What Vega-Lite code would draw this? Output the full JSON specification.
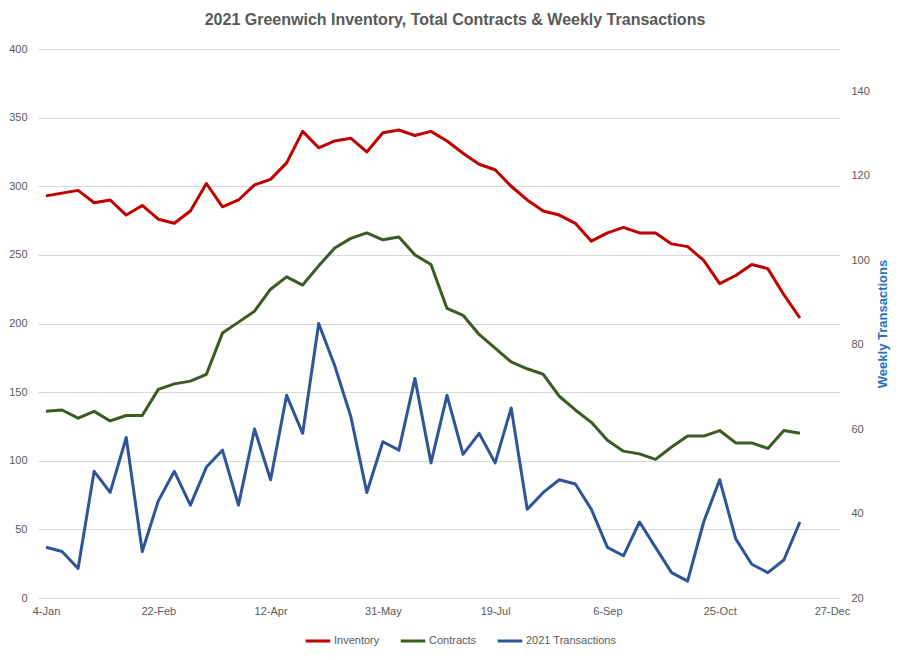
{
  "$schema": "https://vega.github.io/schema/vega-lite/v6.json",
  "autosize": {"type": "none"},
  "width": 802,
  "height": 549,
  "padding": {"left": 38, "top": 49, "right": 70, "bottom": 62},
  "background": "white",
  "config": {
    "view": {"stroke": null},
    "font": "Liberation Sans",
    "axis": {"labelFont": "Liberation Sans", "labelFontSize": 11, "labelColor": "#595959", "domain": false, "ticks": false}
  },
  "title": {
    "text": "2021 Greenwich Inventory, Total Contracts & Weekly Transactions",
    "font": "Liberation Sans",
    "fontSize": 16,
    "fontWeight": "bold",
    "color": "#595959",
    "anchor": "middle",
    "dx": 16,
    "offset": 15
  },
  "data": {
    "values": [
      {"week": 0, "Inventory": 293, "Contracts": 136, "Transactions": 32},
      {"week": 1, "Inventory": 295, "Contracts": 137, "Transactions": 31},
      {"week": 2, "Inventory": 297, "Contracts": 131, "Transactions": 27},
      {"week": 3, "Inventory": 288, "Contracts": 136, "Transactions": 50},
      {"week": 4, "Inventory": 290, "Contracts": 129, "Transactions": 45},
      {"week": 5, "Inventory": 279, "Contracts": 133, "Transactions": 58},
      {"week": 6, "Inventory": 286, "Contracts": 133, "Transactions": 31},
      {"week": 7, "Inventory": 276, "Contracts": 152, "Transactions": 43},
      {"week": 8, "Inventory": 273, "Contracts": 156, "Transactions": 50},
      {"week": 9, "Inventory": 282, "Contracts": 158, "Transactions": 42},
      {"week": 10, "Inventory": 302, "Contracts": 163, "Transactions": 51},
      {"week": 11, "Inventory": 285, "Contracts": 193, "Transactions": 55},
      {"week": 12, "Inventory": 290, "Contracts": 201, "Transactions": 42},
      {"week": 13, "Inventory": 301, "Contracts": 209, "Transactions": 60},
      {"week": 14, "Inventory": 305, "Contracts": 225, "Transactions": 48},
      {"week": 15, "Inventory": 317, "Contracts": 234, "Transactions": 68},
      {"week": 16, "Inventory": 340, "Contracts": 228, "Transactions": 59},
      {"week": 17, "Inventory": 328, "Contracts": 242, "Transactions": 85},
      {"week": 18, "Inventory": 333, "Contracts": 255, "Transactions": 75},
      {"week": 19, "Inventory": 335, "Contracts": 262, "Transactions": 63},
      {"week": 20, "Inventory": 325, "Contracts": 266, "Transactions": 45},
      {"week": 21, "Inventory": 339, "Contracts": 261, "Transactions": 57},
      {"week": 22, "Inventory": 341, "Contracts": 263, "Transactions": 55},
      {"week": 23, "Inventory": 337, "Contracts": 250, "Transactions": 72},
      {"week": 24, "Inventory": 340, "Contracts": 243, "Transactions": 52},
      {"week": 25, "Inventory": 333, "Contracts": 211, "Transactions": 68},
      {"week": 26, "Inventory": 324, "Contracts": 206, "Transactions": 54},
      {"week": 27, "Inventory": 316, "Contracts": 192, "Transactions": 59},
      {"week": 28, "Inventory": 312, "Contracts": 182, "Transactions": 52},
      {"week": 29, "Inventory": 300, "Contracts": 172, "Transactions": 65},
      {"week": 30, "Inventory": 290, "Contracts": 167, "Transactions": 41},
      {"week": 31, "Inventory": 282, "Contracts": 163, "Transactions": 45},
      {"week": 32, "Inventory": 279, "Contracts": 147, "Transactions": 48},
      {"week": 33, "Inventory": 273, "Contracts": 137, "Transactions": 47},
      {"week": 34, "Inventory": 260, "Contracts": 128, "Transactions": 41},
      {"week": 35, "Inventory": 266, "Contracts": 115, "Transactions": 32},
      {"week": 36, "Inventory": 270, "Contracts": 107, "Transactions": 30},
      {"week": 37, "Inventory": 266, "Contracts": 105, "Transactions": 38},
      {"week": 38, "Inventory": 266, "Contracts": 101, "Transactions": 32},
      {"week": 39, "Inventory": 258, "Contracts": 110, "Transactions": 26},
      {"week": 40, "Inventory": 256, "Contracts": 118, "Transactions": 24},
      {"week": 41, "Inventory": 246, "Contracts": 118, "Transactions": 38},
      {"week": 42, "Inventory": 229, "Contracts": 122, "Transactions": 48},
      {"week": 43, "Inventory": 235, "Contracts": 113, "Transactions": 34},
      {"week": 44, "Inventory": 243, "Contracts": 113, "Transactions": 28},
      {"week": 45, "Inventory": 240, "Contracts": 109, "Transactions": 26},
      {"week": 46, "Inventory": 221, "Contracts": 122, "Transactions": 29},
      {"week": 47, "Inventory": 204, "Contracts": 120, "Transactions": 38}
    ]
  },
  "encoding": {
    "x": {
      "field": "week",
      "type": "quantitative",
      "scale": {"domain": [-0.5, 49.5], "nice": false, "zero": false},
      "axis": {
        "title": null,
        "grid": false,
        "values": [0, 7, 14, 21, 28, 35, 42, 49],
        "labelExpr": "['4-Jan','22-Feb','12-Apr','31-May','19-Jul','6-Sep','25-Oct','27-Dec'][round(datum.value/7)]",
        "labelPadding": 7
      }
    }
  },
  "layer": [
    {
      "transform": [{"fold": ["Inventory", "Contracts"], "as": ["series", "value"]}],
      "mark": {"type": "line", "strokeWidth": 3, "strokeJoin": "round"},
      "encoding": {
        "y": {
          "field": "value",
          "type": "quantitative",
          "scale": {"domain": [0, 400], "nice": false},
          "axis": {
            "title": null,
            "values": [0, 50, 100, 150, 200, 250, 300, 350, 400],
            "grid": true,
            "gridColor": "#d9d9d9",
            "gridWidth": 1,
            "labelPadding": 11
          }
        },
        "color": {
          "field": "series",
          "type": "nominal",
          "scale": {
            "domain": ["Inventory", "Contracts", "2021 Transactions"],
            "range": ["#C00000", "#3B5B23", "#2F5597"]
          },
          "legend": {
            "orient": "none",
            "direction": "horizontal",
            "legendX": 266,
            "legendY": 578,
            "title": null,
            "symbolType": "stroke",
            "symbolStrokeWidth": 3,
            "symbolSize": 600,
            "labelFont": "Liberation Sans",
            "labelFontSize": 11,
            "labelColor": "#595959",
            "columnPadding": 14,
            "labelOffset": 2
          }
        }
      }
    },
    {
      "mark": {"type": "line", "strokeWidth": 3, "strokeJoin": "round"},
      "encoding": {
        "y": {
          "field": "Transactions",
          "type": "quantitative",
          "scale": {"domain": [20, 150], "nice": false, "zero": false},
          "axis": {
            "orient": "right",
            "title": "Weekly Transactions",
            "titleFont": "Liberation Sans",
            "titleFontSize": 13,
            "titleFontWeight": "bold",
            "titleColor": "#2473C0",
            "titleAngle": 270,
            "titlePadding": 20,
            "values": [20, 40, 60, 80, 100, 120, 140],
            "grid": false,
            "labelPadding": 11
          }
        },
        "color": {"datum": "2021 Transactions"}
      }
    }
  ],
  "resolve": {"scale": {"y": "independent"}}
}
